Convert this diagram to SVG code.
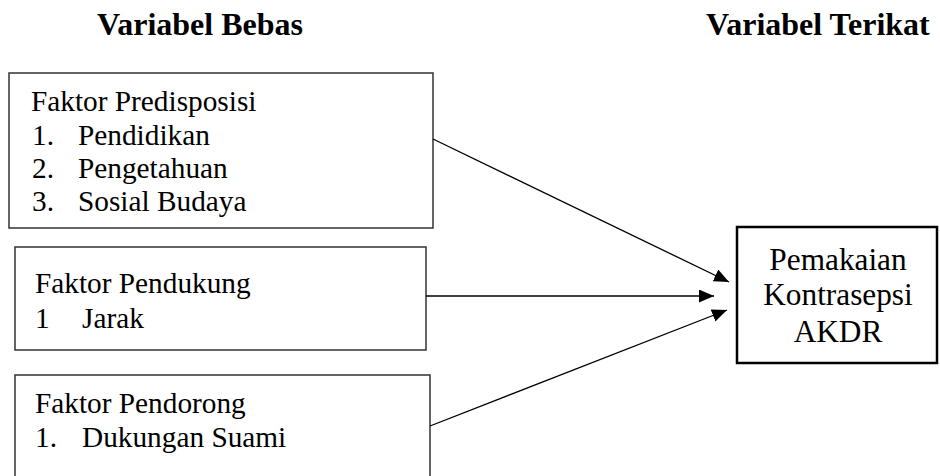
<svg xmlns="http://www.w3.org/2000/svg" width="940" height="476" viewBox="0 0 940 476">
<style>
.t{font-size:32px;font-weight:bold}
.b{font-size:29.3px}
.r{font-size:31.3px}
.box{fill:#fff;stroke:#333;stroke-width:1.5}
.main{fill:#fff;stroke:#000;stroke-width:2.5}
.c line{stroke:#000;stroke-width:1.3}
</style>
<defs>
<marker id="ah" markerUnits="userSpaceOnUse" markerWidth="16" markerHeight="14" refX="15" refY="6.5" orient="auto">
<path d="M0,0 L15,6.5 L0,13 Z" fill="#000"/>
</marker>
</defs>
<g font-family="Liberation Serif, Tinos, Times New Roman, DejaVu Serif, serif" fill="#000">
<text class="t" x="97" y="35">Variabel Bebas</text>
<text class="t" x="706" y="35">Variabel Terikat</text>
<g id="n1">
<rect class="box" x="9" y="73" width="424" height="155"/>
<text class="b" x="31" y="111">Faktor Predisposisi</text>
<text class="b" x="32" y="145">1.</text><text class="b" x="78" y="145">Pendidikan</text>
<text class="b" x="32" y="178">2.</text><text class="b" x="78" y="178">Pengetahuan</text>
<text class="b" x="32" y="211">3.</text><text class="b" x="78" y="211">Sosial Budaya</text>
</g>
<g id="n2">
<rect class="box" x="15" y="247" width="411" height="103"/>
<text class="b" x="35" y="293">Faktor Pendukung</text>
<text class="b" x="35" y="328">1</text><text class="b" x="82" y="328">Jarak</text>
</g>
<g id="n3">
<rect class="box" x="15" y="375" width="415" height="110"/>
<text class="b" x="35" y="413">Faktor Pendorong</text>
<text class="b" x="35" y="447">1.</text><text class="b" x="82" y="447">Dukungan Suami</text>
</g>
<g id="n4">
<rect class="main" x="737" y="227" width="200" height="136"/>
<text class="r" x="838" y="270" text-anchor="middle">Pemakaian</text>
<text class="r" x="838" y="305" text-anchor="middle">Kontrasepsi</text>
<text class="r" x="838" y="342" text-anchor="middle">AKDR</text>
</g>
</g>
<g class="c" id="connectors">
<line x1="433" y1="139" x2="729" y2="282" marker-end="url(#ah)"/>
<line x1="426" y1="296" x2="714" y2="296" marker-end="url(#ah)"/>
<line x1="430" y1="426" x2="727" y2="310" marker-end="url(#ah)"/>
</g>
</svg>
